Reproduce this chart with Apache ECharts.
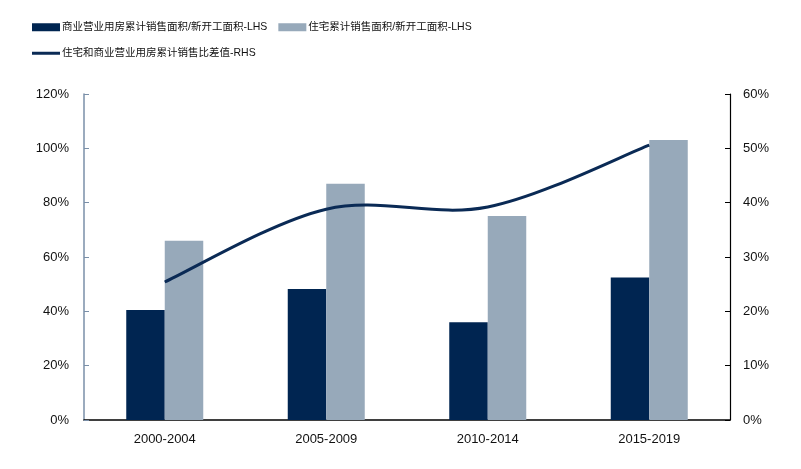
<!DOCTYPE html>
<html>
<head>
<meta charset="utf-8">
<script src="https://cdn.jsdelivr.net/npm/echarts@6/dist/echarts.min.js"></script>
<style>
html,body{margin:0;padding:0;background:#fff;}
#chart{width:801px;height:469px;}
</style>
</head>
<body>
<div id="chart"></div>
<script>
var categories = ['2000-2004', '2005-2009', '2010-2014', '2015-2019'];
var commercialRatio = [40.5, 48.2, 36.0, 52.5];
var residentialRatio = [66.0, 87.0, 75.1, 103.1];
var ratioDiff = [25.4, 38.8, 39.2, 50.6];
var leftTicks = {min: 0, max: 120, interval: 20};
var rightTicks = {min: 0, max: 60, interval: 10};

var nameA = '商业营业用房累计销售面积/新开工面积-LHS';
var nameB = '住宅累计销售面积/新开工面积-LHS';
var nameC = '住宅和商业营业用房累计销售比差值-RHS';
var FONT = '"Liberation Sans", Arial, "Noto Sans CJK SC", sans-serif';
var LINE_COLOR = '#0a2a55';

// Smooth (Catmull-Rom style) curve through the data points, positioned by the axes
function renderDiffLine(params, api) {
  if (params.dataIndex !== 0) return null;
  var pts = ratioDiff.map(function (v, i) { return api.coord([i, v]); });
  var n = pts.length;
  var d = 'M' + pts[0][0] + ' ' + pts[0][1];
  for (var i = 0; i < n - 1; i++) {
    var p0 = pts[Math.max(i - 1, 0)], p1 = pts[i], p2 = pts[i + 1], p3 = pts[Math.min(i + 2, n - 1)];
    var c1x = p1[0] + (p2[0] - p0[0]) / 6, c1y = p1[1] + (p2[1] - p0[1]) / 6;
    var c2x = p2[0] - (p3[0] - p1[0]) / 6, c2y = p2[1] - (p3[1] - p1[1]) / 6;
    d += ' C' + c1x + ' ' + c1y + ' ' + c2x + ' ' + c2y + ' ' + p2[0] + ' ' + p2[1];
  }
  return {
    type: 'path',
    shape: {pathData: d},
    style: {fill: null, stroke: LINE_COLOR, lineWidth: 3, lineCap: 'butt'},
    silent: true
  };
}

var chart = echarts.init(document.getElementById('chart'));
chart.setOption({
  animation: false,
  textStyle: {fontFamily: FONT},
  legend: [
    {
      left: 27, top: 17,
      itemWidth: 28, itemHeight: 8, itemGap: 11,
      icon: 'rect',
      textStyle: {fontSize: 10.5, color: '#111', fontFamily: FONT, padding: [0, 0, 0, -3]},
      data: [nameA, nameB]
    },
    {
      left: 27, top: 43,
      itemWidth: 28, itemHeight: 3,
      icon: 'rect',
      textStyle: {fontSize: 10.5, color: '#111', fontFamily: FONT, padding: [0, 0, 0, -3]},
      data: [{name: nameC, itemStyle: {color: LINE_COLOR}}]
    }
  ],
  grid: {left: 84, right: 71, top: 94, bottom: 49, containLabel: false},
  xAxis: {
    type: 'category',
    data: categories,
    axisLine: {lineStyle: {color: '#000', width: 1.5}},
    axisTick: {inside: true, length: 5, lineStyle: {color: '#000'}},
    axisLabel: {fontSize: 13, color: '#111', margin: 13, fontFamily: FONT}
  },
  yAxis: [
    {
      type: 'value',
      min: leftTicks.min, max: leftTicks.max, interval: leftTicks.interval,
      axisLine: {show: true, lineStyle: {color: '#7a8fa8', width: 1.5}},
      axisTick: {show: true, inside: true, length: 5, lineStyle: {color: '#7a8fa8'}},
      splitLine: {show: false},
      axisLabel: {formatter: '{value}%', fontSize: 13, color: '#111', margin: 15, fontFamily: FONT}
    },
    {
      type: 'value',
      position: 'right',
      min: rightTicks.min, max: rightTicks.max, interval: rightTicks.interval,
      axisLine: {show: true, lineStyle: {color: '#000', width: 1.2}},
      axisTick: {show: true, inside: true, length: 5, lineStyle: {color: '#000'}},
      splitLine: {show: false},
      axisLabel: {formatter: '{value}%', fontSize: 13, color: '#111', margin: 13, fontFamily: FONT}
    }
  ],
  series: [
    {
      name: nameA, type: 'bar', data: commercialRatio,
      barWidth: 38.5, barGap: '0%',
      itemStyle: {color: '#002551'}
    },
    {
      name: nameB, type: 'bar', data: residentialRatio,
      barWidth: 38.5, barGap: '0%',
      itemStyle: {color: '#97a9ba'}
    },
    {
      name: nameC, type: 'custom', yAxisIndex: 1,
      data: ratioDiff.map(function (v, i) { return [i, v]; }),
      encode: {x: 0, y: 1},
      renderItem: renderDiffLine,
      itemStyle: {color: LINE_COLOR},
      z: 5
    }
  ]
});
</script>
</body>
</html>
